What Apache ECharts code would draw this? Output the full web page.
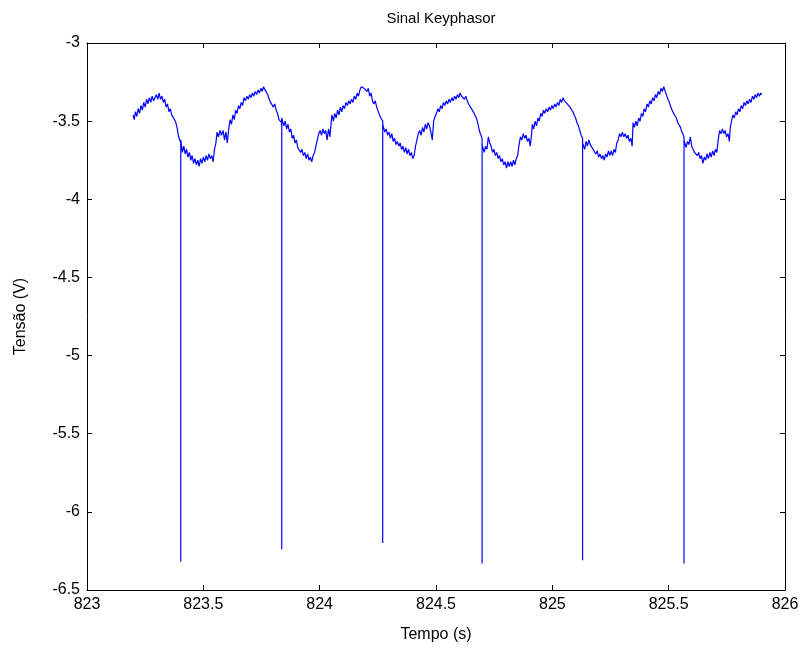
<!DOCTYPE html>
<html>
<head>
<meta charset="utf-8">
<script src="https://cdn.jsdelivr.net/npm/echarts@6/dist/echarts.min.js"></script>
<style>html,body{margin:0;padding:0;background:#fff}#c{width:802px;height:650px}</style>
</head>
<body>
<div id="c"></div>
<script>
const chartTitle = 'Sinal Keyphasor';
const xName = 'Tempo (s)';
const yName = 'Tensão (V)';
const xTicks = [823, 823.5, 824, 824.5, 825, 825.5, 826];
const yTicks = [-6.5, -6, -5.5, -5, -4.5, -4, -3.5, -3];
// [time (s), voltage (V)]
const signal = [
[823.198,-3.46],[823.203,-3.49],[823.208,-3.44],[823.214,-3.47],[823.220,-3.42],[823.226,-3.45],[823.232,-3.40],[823.238,-3.43],[823.244,-3.38],[823.250,-3.41],
[823.256,-3.36],[823.262,-3.39],[823.268,-3.35],[823.274,-3.38],[823.280,-3.34],[823.286,-3.37],[823.292,-3.35],[823.298,-3.33],[823.304,-3.36],[823.310,-3.32],
[823.316,-3.36],[823.322,-3.34],[823.328,-3.38],[823.334,-3.36],[823.340,-3.41],[823.346,-3.39],[823.352,-3.44],[823.358,-3.42],[823.364,-3.46],[823.370,-3.45],
[823.376,-3.49],[823.382,-3.51],[823.388,-3.55],[823.394,-3.60],[823.403,-3.64],[823.403,-6.32],[823.403,-3.62],[823.410,-3.70],[823.416,-3.66],[823.422,-3.71],
[823.428,-3.68],[823.434,-3.73],[823.440,-3.70],[823.446,-3.75],[823.452,-3.72],[823.458,-3.77],[823.464,-3.74],[823.470,-3.78],[823.476,-3.75],[823.482,-3.79],
[823.488,-3.74],[823.494,-3.77],[823.500,-3.73],[823.506,-3.76],[823.512,-3.72],[823.518,-3.75],[823.524,-3.71],[823.530,-3.74],[823.536,-3.72],[823.542,-3.76],
[823.548,-3.68],[823.554,-3.64],[823.559,-3.57],[823.565,-3.60],[823.572,-3.56],[823.578,-3.59],[823.585,-3.56],[823.591,-3.62],[823.597,-3.57],[823.603,-3.64],
[823.609,-3.55],[823.615,-3.49],[823.621,-3.52],[823.627,-3.46],[823.633,-3.49],[823.639,-3.43],[823.645,-3.45],[823.651,-3.40],[823.657,-3.42],[823.663,-3.38],
[823.669,-3.40],[823.675,-3.35],[823.681,-3.37],[823.687,-3.34],[823.693,-3.36],[823.699,-3.33],[823.705,-3.35],[823.711,-3.32],[823.717,-3.34],[823.723,-3.31],
[823.729,-3.33],[823.735,-3.30],[823.741,-3.32],[823.747,-3.29],[823.753,-3.31],[823.759,-3.28],[823.765,-3.30],[823.771,-3.29],[823.777,-3.33],[823.783,-3.36],
[823.789,-3.38],[823.795,-3.37],[823.801,-3.41],[823.807,-3.39],[823.813,-3.43],[823.819,-3.45],[823.825,-3.49],[823.837,-3.51],[823.837,-6.24],[823.837,-3.48],
[823.846,-3.53],[823.852,-3.50],[823.858,-3.55],[823.864,-3.52],[823.870,-3.57],[823.876,-3.55],[823.882,-3.61],[823.888,-3.59],[823.894,-3.64],[823.900,-3.62],
[823.906,-3.67],[823.912,-3.66],[823.918,-3.70],[823.924,-3.68],[823.930,-3.72],[823.936,-3.70],[823.942,-3.74],[823.948,-3.71],[823.954,-3.75],[823.960,-3.73],
[823.966,-3.76],[823.972,-3.72],[823.978,-3.70],[823.984,-3.66],[823.990,-3.62],[823.996,-3.58],[824.002,-3.56],[824.008,-3.59],[824.014,-3.55],[824.020,-3.58],
[824.026,-3.56],[824.032,-3.62],[824.038,-3.55],[824.044,-3.60],[824.050,-3.50],[824.053,-3.46],[824.059,-3.50],[824.065,-3.45],[824.071,-3.48],[824.077,-3.43],
[824.083,-3.46],[824.089,-3.41],[824.095,-3.44],[824.101,-3.40],[824.107,-3.42],[824.113,-3.38],[824.119,-3.40],[824.125,-3.37],[824.131,-3.39],[824.137,-3.36],
[824.143,-3.38],[824.149,-3.34],[824.155,-3.36],[824.161,-3.32],[824.167,-3.34],[824.173,-3.30],[824.179,-3.28],[824.185,-3.27],[824.191,-3.29],[824.197,-3.28],
[824.203,-3.31],[824.209,-3.29],[824.215,-3.34],[824.221,-3.32],[824.227,-3.37],[824.233,-3.39],[824.239,-3.37],[824.245,-3.41],[824.251,-3.42],[824.257,-3.46],
[824.263,-3.48],[824.271,-3.50],[824.271,-6.20],[824.271,-3.52],[824.280,-3.57],[824.286,-3.55],[824.292,-3.59],[824.298,-3.57],[824.304,-3.61],[824.310,-3.58],
[824.316,-3.63],[824.322,-3.61],[824.328,-3.65],[824.334,-3.63],[824.340,-3.66],[824.346,-3.64],[824.352,-3.68],[824.358,-3.66],[824.364,-3.70],[824.370,-3.67],
[824.376,-3.71],[824.382,-3.68],[824.388,-3.72],[824.394,-3.70],[824.400,-3.74],[824.406,-3.72],[824.412,-3.66],[824.418,-3.62],[824.424,-3.58],[824.430,-3.56],
[824.436,-3.59],[824.442,-3.54],[824.448,-3.57],[824.454,-3.52],[824.460,-3.55],[824.466,-3.51],[824.472,-3.53],[824.478,-3.57],[824.484,-3.62],[824.490,-3.50],
[824.496,-3.47],[824.502,-3.45],[824.508,-3.42],[824.514,-3.44],[824.520,-3.40],[824.526,-3.42],[824.532,-3.38],[824.538,-3.40],[824.544,-3.37],[824.550,-3.39],
[824.556,-3.36],[824.562,-3.38],[824.568,-3.35],[824.574,-3.37],[824.580,-3.34],[824.586,-3.36],[824.592,-3.33],[824.598,-3.35],[824.604,-3.32],[824.610,-3.34],
[824.616,-3.33],[824.622,-3.36],[824.628,-3.34],[824.634,-3.37],[824.640,-3.39],[824.646,-3.38],[824.652,-3.42],[824.658,-3.41],[824.664,-3.45],[824.670,-3.47],
[824.676,-3.49],[824.682,-3.53],[824.688,-3.57],[824.698,-3.61],[824.698,-6.33],[824.698,-3.65],[824.707,-3.70],[824.713,-3.66],[824.719,-3.68],[824.725,-3.60],
[824.731,-3.64],[824.737,-3.66],[824.743,-3.70],[824.749,-3.68],[824.755,-3.72],[824.761,-3.70],[824.767,-3.74],[824.773,-3.72],[824.779,-3.76],[824.785,-3.74],
[824.791,-3.78],[824.797,-3.76],[824.803,-3.80],[824.809,-3.76],[824.815,-3.79],[824.821,-3.76],[824.827,-3.79],[824.833,-3.75],[824.839,-3.78],[824.845,-3.74],
[824.851,-3.72],[824.857,-3.65],[824.863,-3.60],[824.869,-3.62],[824.875,-3.58],[824.881,-3.61],[824.887,-3.59],[824.893,-3.63],[824.899,-3.61],[824.905,-3.66],
[824.911,-3.58],[824.914,-3.52],[824.920,-3.55],[824.926,-3.50],[824.932,-3.53],[824.938,-3.48],[824.944,-3.50],[824.950,-3.45],[824.956,-3.47],[824.962,-3.43],
[824.968,-3.45],[824.974,-3.42],[824.980,-3.44],[824.986,-3.41],[824.992,-3.43],[824.998,-3.40],[825.004,-3.42],[825.010,-3.39],[825.016,-3.41],[825.022,-3.38],
[825.028,-3.40],[825.034,-3.36],[825.040,-3.38],[825.046,-3.35],[825.052,-3.37],[825.058,-3.36],[825.064,-3.39],[825.070,-3.38],[825.076,-3.41],[825.082,-3.40],
[825.088,-3.44],[825.094,-3.46],[825.100,-3.48],[825.106,-3.51],[825.112,-3.53],[825.118,-3.56],[825.124,-3.59],[825.130,-3.61],[825.130,-6.31],[825.130,-3.64],
[825.139,-3.68],[825.145,-3.63],[825.151,-3.66],[825.157,-3.62],[825.163,-3.65],[825.169,-3.64],[825.175,-3.68],[825.181,-3.67],[825.187,-3.71],[825.193,-3.69],
[825.199,-3.73],[825.205,-3.71],[825.211,-3.74],[825.217,-3.72],[825.223,-3.75],[825.229,-3.71],[825.235,-3.73],[825.241,-3.69],[825.247,-3.72],[825.253,-3.69],
[825.259,-3.72],[825.265,-3.68],[825.271,-3.70],[825.277,-3.64],[825.283,-3.62],[825.289,-3.58],[825.295,-3.60],[825.301,-3.57],[825.307,-3.60],[825.313,-3.58],
[825.319,-3.61],[825.325,-3.59],[825.331,-3.63],[825.337,-3.61],[825.343,-3.66],[825.347,-3.51],[825.353,-3.54],[825.359,-3.50],[825.365,-3.53],[825.371,-3.48],
[825.377,-3.50],[825.383,-3.45],[825.389,-3.47],[825.395,-3.42],[825.401,-3.44],[825.407,-3.39],[825.413,-3.41],[825.419,-3.37],[825.425,-3.39],[825.431,-3.35],
[825.437,-3.37],[825.443,-3.33],[825.449,-3.35],[825.455,-3.31],[825.461,-3.33],[825.467,-3.29],[825.473,-3.31],[825.479,-3.28],[825.485,-3.31],[825.491,-3.32],
[825.497,-3.36],[825.503,-3.38],[825.509,-3.41],[825.515,-3.43],[825.521,-3.45],[825.527,-3.44],[825.533,-3.48],[825.539,-3.51],[825.545,-3.50],[825.551,-3.54],
[825.557,-3.57],[825.566,-3.60],[825.566,-6.33],[825.566,-3.62],[825.575,-3.67],[825.581,-3.63],[825.587,-3.65],[825.593,-3.60],[825.599,-3.66],[825.605,-3.68],
[825.611,-3.70],[825.617,-3.69],[825.623,-3.72],[825.629,-3.70],[825.635,-3.74],[825.641,-3.72],[825.647,-3.77],[825.653,-3.73],[825.659,-3.75],[825.665,-3.71],
[825.671,-3.74],[825.677,-3.70],[825.683,-3.73],[825.689,-3.69],[825.695,-3.72],[825.701,-3.68],[825.707,-3.70],[825.713,-3.62],[825.719,-3.56],[825.725,-3.58],
[825.731,-3.55],[825.737,-3.58],[825.743,-3.56],[825.749,-3.60],[825.755,-3.58],[825.761,-3.63],[825.764,-3.55],[825.770,-3.50],[825.776,-3.46],[825.782,-3.48],
[825.788,-3.44],[825.794,-3.46],[825.800,-3.42],[825.806,-3.44],[825.812,-3.40],[825.818,-3.42],[825.824,-3.38],[825.830,-3.40],[825.836,-3.37],[825.842,-3.39],
[825.848,-3.36],[825.854,-3.38],[825.860,-3.34],[825.866,-3.36],[825.872,-3.33],[825.878,-3.35],[825.884,-3.32],[825.890,-3.34],[825.896,-3.32],[825.900,-3.33]
];

const font = 'Liberation Sans, Arial, sans-serif';
const fmtX = v => xTicks.includes(+v.toFixed(1)) ? String(+v.toFixed(1)) : '';
const fmtY = v => yTicks.includes(+v.toFixed(1)) ? String(+v.toFixed(1)) : '';
const axisCommon = {
  axisLine: {show: true, lineStyle: {color: '#000', width: 1}},
  axisTick: {show: true, inside: true, length: 5, lineStyle: {color: '#000'}},
  splitLine: {show: false}
};
const chart = echarts.init(document.getElementById('c'), null, {renderer: 'canvas'});
chart.setOption({
  animation: false,
  backgroundColor: '#fff',
  title: {text: chartTitle, left: 436, top: 6, textAlign: 'center',
    textStyle: {fontFamily: font, fontSize: 15, fontWeight: 'normal', color: '#000'}},
  grid: {left: 87, right: 17, top: 43, bottom: 60, containLabel: false},
  xAxis: [
    Object.assign({type: 'value', min: xTicks[0], max: xTicks[xTicks.length-1], interval: 0.5,
      name: xName, nameLocation: 'middle', nameGap: 37,
      nameTextStyle: {fontFamily: font, fontSize: 16, color: '#000'},
      axisLabel: {fontFamily: font, fontSize: 16, color: '#000', margin: 7, formatter: fmtX}}, axisCommon),
    Object.assign({type: 'value', position: 'top', min: xTicks[0], max: xTicks[xTicks.length-1], interval: 0.5,
      axisLabel: {show: false}}, axisCommon)
  ],
  yAxis: [
    Object.assign({type: 'value', min: yTicks[0], max: yTicks[yTicks.length-1], interval: 0.5,
      name: yName, nameLocation: 'middle', nameGap: 58, nameRotate: 90,
      nameTextStyle: {fontFamily: font, fontSize: 16, color: '#000'},
      axisLabel: {fontFamily: font, fontSize: 16, color: '#000', margin: 7, formatter: fmtY}}, axisCommon),
    Object.assign({type: 'value', position: 'right', min: yTicks[0], max: yTicks[yTicks.length-1], interval: 0.5,
      axisLabel: {show: false}}, axisCommon)
  ],
  series: [{
    type: 'line', data: signal, showSymbol: false, symbol: 'none',
    lineStyle: {color: '#0000ff', width: 1.2}, itemStyle: {color: '#0000ff'},
    emphasis: {disabled: true}
  }]
});
</script>
</body>
</html>
